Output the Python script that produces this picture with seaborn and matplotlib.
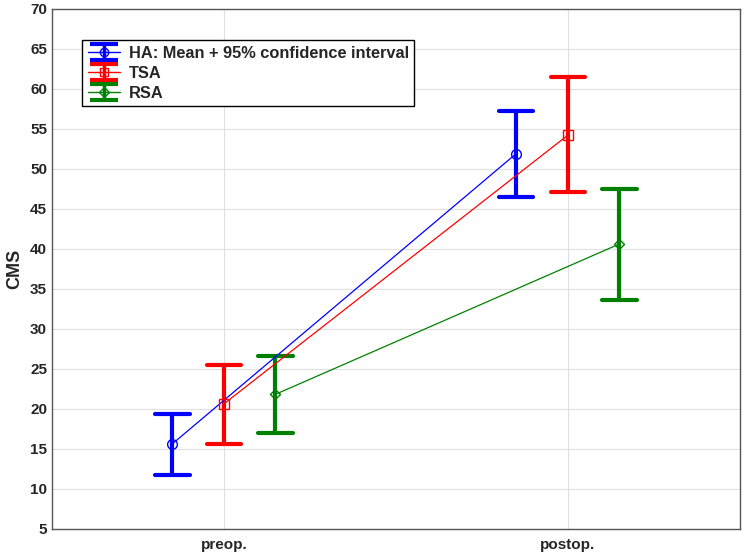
import numpy as np
import pandas as pd
import matplotlib
matplotlib.use("Agg")
import matplotlib.pyplot as plt
import seaborn as sns

# ---- data ----
times = ["preop.", "postop."]
groups = ["HA", "TSA", "RSA"]
legend_labels = ["HA: Mean + 95% confidence interval", "TSA", "RSA"]
ha_mean = [15.6, 51.9]
ha_lo = [11.7, 46.5]
ha_hi = [19.4, 57.2]
tsa_mean = [20.6, 54.2]
tsa_lo = [15.6, 47.1]
tsa_hi = [25.5, 61.5]
rsa_mean = [21.8, 40.6]
rsa_lo = [17.0, 33.6]
rsa_hi = [26.6, 47.5]
yticks = list(range(5, 71, 5))

colors = ["#0000ff", "#ff0000", "#008000"]
markers = ["o", "s", "D"]

# long-form table: low / mean / high per cell; the median is the mean and the
# full percentile interval spans the confidence interval
rows = []
for g, m, lo, hi in [("HA", ha_mean, ha_lo, ha_hi),
                     ("TSA", tsa_mean, tsa_lo, tsa_hi),
                     ("RSA", rsa_mean, rsa_lo, rsa_hi)]:
    for i, t in enumerate(times):
        for v in (lo[i], m[i], hi[i]):
            rows.append({"time": t, "group": g, "CMS": v})
df = pd.DataFrame(rows)

sns.set_style("white")
plt.rcParams["font.family"] = ["Liberation Sans", "DejaVu Sans"]
plt.rcParams["font.weight"] = "bold"

fig = plt.figure(figsize=(7.42, 5.53), dpi=100)
ax = fig.add_axes([0.070, 0.044, 0.927, 0.940])

sns.pointplot(data=df, x="time", y="CMS", hue="group", order=times,
              hue_order=groups, palette=colors, estimator="median",
              errorbar=("pi", 100), dodge=0.3, markers=markers,
              linestyles="-", capsize=0.1, linewidth=0.9,
              err_kws={"linewidth": 3.0}, markersize=7,
              markerfacecolor="none", markeredgewidth=1.0,
              legend=False, ax=ax)

for ln in ax.lines:
    if ln.get_marker() not in (None, "None", "", " "):
        ln.set_markerfacecolor("none")
        ln.set_zorder(5)
        if ln.get_marker() == "D":
            ln.set_markersize(5.5)

ax.set_xlim(-0.5, 1.5)
ax.set_ylim(5, 70)
ax.set_yticks(yticks)
ax.set_xlabel("")
ax.set_ylabel("CMS", fontsize=13, fontweight="bold", labelpad=5)
ax.grid(True, color="#e0e0e0", linewidth=0.8)
ax.set_axisbelow(True)
for s in ax.spines.values():
    s.set_color("#555555")
    s.set_linewidth(1.0)
ax.tick_params(axis="both", labelsize=11, direction="in", length=3,
               color="#555555")
ax.tick_params(axis="x", pad=7)
for lab in ax.get_xticklabels() + ax.get_yticklabels():
    lab.set_fontweight("bold")

# legend proxies drawn as error bars
handles = []
for c, mk in zip(colors, markers):
    h = ax.errorbar([np.nan], [np.nan], yerr=[[1], [1]], fmt=mk, color=c,
                    mfc="none", ms=6 if mk != "D" else 5, capsize=10,
                    elinewidth=2.5, capthick=3, linestyle="-", lw=1)
    handles.append(h)
leg = ax.legend(handles, legend_labels, loc="upper left",
                bbox_to_anchor=(0.0436, 0.940), borderaxespad=0,
                frameon=True, fancybox=False,
                edgecolor="black", prop={"size": 11.8, "weight": "bold"},
                handlelength=2.0, handletextpad=0.5, labelspacing=0.3,
                borderpad=0.35, framealpha=1)
leg.get_frame().set_linewidth(1.0)

fig.savefig("out.png", dpi=100)
